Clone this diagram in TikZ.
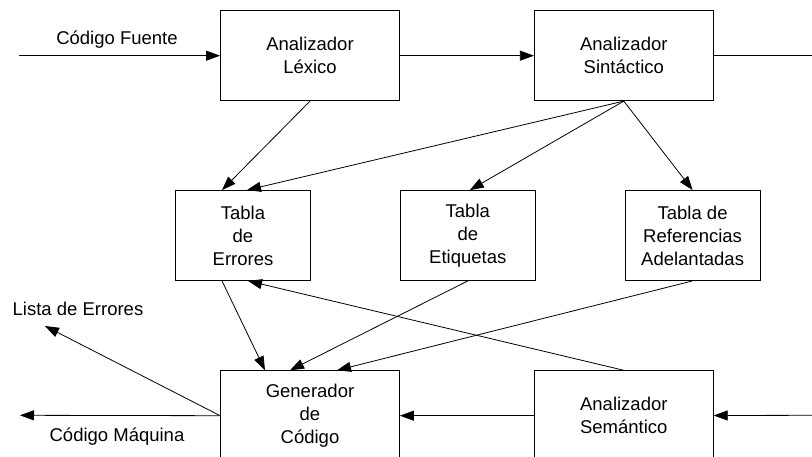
\documentclass[tikz,border=0pt]{standalone}
\usepackage{fontspec}
\setmainfont{Liberation Sans}
\usetikzlibrary{positioning, arrows.meta}

\begin{document}
\begin{tikzpicture}[x=1pt,y=-1pt,-{Triangle[length=14pt,width=10pt]},line width=0.8pt,
    caja/.style={draw,rectangle,align=center,minimum width=179pt,minimum height=90pt,
      font=\fontsize{18.5}{23}\selectfont},
    tabla/.style={caja,minimum width=135pt},
    etiq/.style={font=\fontsize{18.5}{23}\selectfont}]
      \clip[-] (0,0) rectangle (812,457);
      \node[caja] (lex) at (310,55.7) {Analizador\\Léxico};
      \node[caja,right=134pt of lex] (sin) {Analizador\\Sintáctico};
      \node[tabla] (err) at (243,235.5) {Tabla\\de\\Errores};
      \node[tabla,right=89pt of err] (eti) {Tabla\\de\\Etiquetas};
      \node[tabla,right=89pt of eti] (ref) {Tabla de\\Referencias\\Adelantadas};
      \node[caja] (gen) at (310,415.7) {Generador\\de\\Código};
      \node[caja,right=134pt of gen] (sem) {Analizador\\Semántico};
      \coordinate (fuente) at (19,55.7);
      \coordinate (sal) at (812,55.7);
      \coordinate (ent) at (812,415.3);
      \coordinate (maquina) at (20,415.3);
      \coordinate (lista) at (45,326);
      \node[etiq] (lfuente) at (117,40) {Código Fuente};
      \node[etiq] (lmaquina) at (117,437) {Código Máquina};
      \node[etiq] (llista) at (78,309) {Lista de Errores};
      \path (fuente) edge (lex)
        (lex) edge (sin)
        (sin) edge[-] (sal)
        (lex.south) edge ([xshift=-21pt]err.north)
        (sin.south) edge ([xshift=4pt]err.north)
        (sin.south) edge ([xshift=2pt]eti.north)
        (sin.south) edge (ref.north)
        ([xshift=-21pt]err.south) edge ([xshift=-45pt]gen.north)
        (eti.south) edge ([xshift=-20pt]gen.north)
        (ref.south) edge ([xshift=27pt]gen.north)
        (sem.north) edge ([xshift=5pt]err.south)
        (ent) edge (sem)
        (sem) edge (gen)
        (gen.west) edge (maquina)
        (gen.west) edge (lista);
    \end{tikzpicture}
\end{document}
